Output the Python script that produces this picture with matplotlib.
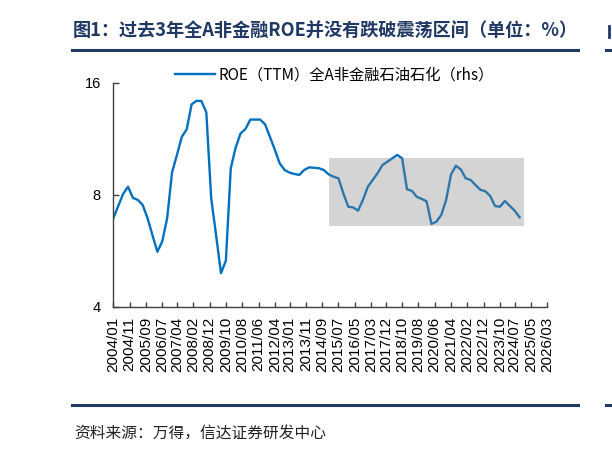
import matplotlib
matplotlib.use("Agg")
import matplotlib.pyplot as plt
from matplotlib.patches import Rectangle
from matplotlib.lines import Line2D
from matplotlib.ticker import FixedLocator, NullLocator

plt.rcParams['font.family'] = ['Noto Sans CJK SC', 'DejaVu Sans']

# ---- data ----
title = "图1：过去3年全A非金融ROE并没有跌破震荡区间（单位：%）"
source = "资料来源：万得，信达证券研发中心"
series_name = "ROE（TTM）全A非金融石油石化（rhs）"

# quarterly values starting 2004/01
roe = [6.93, 7.47, 8.05, 8.42, 7.86, 7.76, 7.52, 6.93, 6.24, 5.63,
       6.00, 6.93, 9.20, 10.25, 11.47, 12.01, 14.02, 14.33, 14.31, 13.35,
       7.84, 6.24, 4.93, 5.33, 9.44, 10.74, 11.71, 12.04, 12.76, 12.76,
       12.76, 12.39, 11.47, 10.58, 9.73, 9.34, 9.19, 9.11, 9.06, 9.34,
       9.49, 9.47, 9.44, 9.34, 9.09, 8.96, 8.87, 8.08, 7.44, 7.41,
       7.26, 7.76, 8.42, 8.78, 9.16, 9.63, 9.83, 10.04, 10.25, 10.04,
       8.29, 8.21, 7.91, 7.81, 7.69, 6.69, 6.78, 7.07, 7.76, 9.09,
       9.59, 9.37, 8.87, 8.78, 8.51, 8.26, 8.19, 7.95, 7.47, 7.44,
       7.71, 7.48, 7.26, 6.97]
months = [3 * i for i in range(len(roe))]  # months since 2004/01

xtick_labels = ["2004/01", "2004/11", "2005/09", "2006/07", "2007/04", "2008/02",
                "2008/12", "2009/10", "2010/08", "2011/06", "2012/04", "2013/01",
                "2013/11", "2014/09", "2015/07", "2016/05", "2017/03", "2017/12",
                "2018/10", "2019/08", "2020/06", "2021/04", "2022/02", "2022/12",
                "2023/10", "2024/07", "2025/05", "2026/03"]
yticks = [4, 8, 16]

band_start, band_end = "2015/01", "2025/01"
band_low, band_high = 6.62, 10.04


def m(label):
    y, mo = label.split("/")
    return (int(y) - 2004) * 12 + int(mo) - 1


xtick_pos = [m(s) for s in xtick_labels]

# ---- figure ----
fig = plt.figure(figsize=(6.12, 4.5), dpi=100)
ax = fig.add_axes([113.3 / 612, 1 - 307 / 450, 434 / 612, 224 / 450])

ax.plot(months, roe, color="#0070C0", lw=1.7, zorder=2)
ax.add_patch(Rectangle((m(band_start), band_low), m(band_end) - m(band_start),
                       band_high - band_low, facecolor="#848484", alpha=0.35,
                       edgecolor="none", zorder=3))

ax.set_yscale("log")
ax.set_ylim(4, 16)
ax.set_xlim(xtick_pos[0], xtick_pos[-1])
ax.yaxis.set_major_locator(FixedLocator(yticks))
ax.yaxis.set_minor_locator(NullLocator())
ax.set_yticklabels([str(v) for v in yticks], family="Liberation Sans", fontsize=10.5)
ax.set_xticks(xtick_pos)
ax.set_xticklabels(xtick_labels, rotation=90, family="Liberation Sans", fontsize=11)

for s in ["top", "right"]:
    ax.spines[s].set_visible(False)
for s in ["left", "bottom"]:
    ax.spines[s].set_color("#404040")
    ax.spines[s].set_linewidth(1.0)
ax.tick_params(axis="x", direction="in", length=3.5, width=1, color="#404040", pad=7)
ax.tick_params(axis="y", direction="in", length=4, width=1, color="#404040", pad=9)

# legend
leg = ax.legend([Line2D([0], [0], color="#0070C0", lw=1.7)], [series_name],
                loc="center left", bbox_to_anchor=(175 / 612, 1 - 75 / 450),
                bbox_transform=fig.transFigure, frameon=False, fontsize=11,
                handlelength=2.6, handletextpad=0.25, borderpad=0, borderaxespad=0)

# title and rules
navy = "#1F3864"
fig.text(73 / 612, 1 - 31 / 450, title, fontsize=13.1, fontweight="bold",
         color=navy, ha="left", va="center")
fig.add_artist(Line2D([72 / 612, 578 / 612], [1 - 50 / 450] * 2, color=navy, lw=2.2))
fig.add_artist(Line2D([72 / 612, 578 / 612], [1 - 405 / 450] * 2, color=navy, lw=2.2))
fig.text(74 / 612, 1 - 433 / 450, source, fontsize=11.3, style="italic",
         color="#222222", ha="left", va="center")

# fragments of the neighbouring chart at the right edge
fig.add_artist(Line2D([606 / 612, 612 / 612], [1 - 50 / 450] * 2, color=navy, lw=2.2))
fig.add_artist(Line2D([606 / 612, 612 / 612], [1 - 405 / 450] * 2, color=navy, lw=2.2))
fig.add_artist(Line2D([608.5 / 612] * 2, [1 - 26 / 450, 1 - 37 / 450], color=navy, lw=2))

fig.savefig("out.png", dpi=100)
